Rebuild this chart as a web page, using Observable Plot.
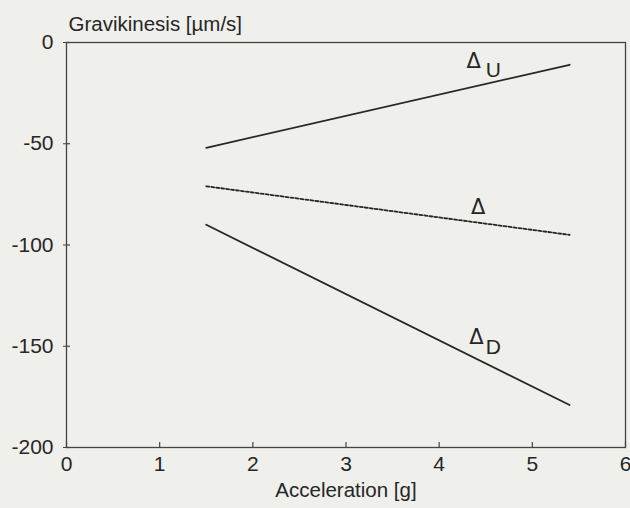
<!DOCTYPE html>
<html>
<head>
<meta charset="utf-8">
<script src="https://cdn.jsdelivr.net/npm/d3@7"></script>
<script src="https://cdn.jsdelivr.net/npm/@observablehq/plot@0.6"></script>
<style>
  html, body { margin: 0; padding: 0; background: #efefeb; }
  svg { display: block; }
</style>
</head>
<body>
<div id="chart"></div>
<script>
// Data
const acceleration = [1.5, 5.4];          // g
const deltaU = [-52, -11];                // µm/s
const deltaAll = [-71, -95];              // µm/s (dotted)
const deltaD = [-90, -179];               // µm/s
const xTicks = [0, 1, 2, 3, 4, 5, 6];
const yTicks = [0, -50, -100, -150, -200];

const rows = (vals) => acceleration.map((a, i) => ({x: a, y: vals[i]}));

const W = 630, H = 508, mL = 66, mR = 5, mT = 42, mB = 61;
const frameW = W - mL - mR, frameH = H - mT - mB;

const font = "'Liberation Sans', Arial, Helvetica, sans-serif";
const ink = "#262626";
const fmt = (d) => String(d);

const chart = Plot.plot({
  width: W,
  height: H,
  marginLeft: mL,
  marginRight: mR,
  marginTop: mT,
  marginBottom: mB,
  style: {fontFamily: font, background: "#efefeb", color: ink, overflow: "visible"},
  x: {domain: [0, 6]},
  y: {domain: [-200, 0]},
  marks: [
    Plot.frame({stroke: "#444", strokeWidth: 1.3}),
    // short inward tick marks
    Plot.tickX(xTicks, {x: (d) => d, insetTop: frameH - 5, stroke: "#444", strokeWidth: 1.2}),
    Plot.tickY(yTicks, {y: (d) => d, insetRight: frameW - 4, stroke: "#444", strokeWidth: 1.2}),
    Plot.axisY({ticks: yTicks, tickSize: 3, text: null, label: null, stroke: "#444"}),
    // tick labels
    Plot.axisX({ticks: xTicks, tickSize: 0, tickPadding: 9, fontSize: 21, label: null, fill: ink, tickFormat: fmt}),
    Plot.axisY({ticks: yTicks, tickSize: 0, tickPadding: 13, fontSize: 21, label: null, fill: ink, tickFormat: fmt}),
    // axis titles
    Plot.text(["Gravikinesis [µm/s]"], {frameAnchor: "top-left", dx: 2, dy: -26, textAnchor: "start", fontSize: 20.5, fill: ink}),
    Plot.text(["Acceleration [g]"], {frameAnchor: "bottom", dy: 49, fontSize: 20.5, fill: ink}),
    // lines
    Plot.line(rows(deltaU), {x: "x", y: "y", stroke: ink, strokeWidth: 1.8}),
    Plot.line(rows(deltaAll), {x: "x", y: "y", stroke: ink, strokeWidth: 1.8, strokeDasharray: "3,2"}),
    Plot.line(rows(deltaD), {x: "x", y: "y", stroke: ink, strokeWidth: 1.8}),
    // series labels
    Plot.text(["Δ"], {x: 4.37, y: -9.5, fontSize: 21, fill: ink, fontFamily: "'DejaVu Sans', sans-serif"}),
    Plot.text(["U"], {x: 4.58, y: -13.5, fontSize: 21, fill: ink}),
    Plot.text(["Δ"], {x: 4.42, y: -81.5, fontSize: 21, fill: ink, fontFamily: "'DejaVu Sans', sans-serif"}),
    Plot.text(["Δ"], {x: 4.40, y: -145.5, fontSize: 21, fill: ink, fontFamily: "'DejaVu Sans', sans-serif"}),
    Plot.text(["D"], {x: 4.58, y: -150.5, fontSize: 21, fill: ink})
  ]
});
document.getElementById("chart").append(chart);
</script>
</body>
</html>
